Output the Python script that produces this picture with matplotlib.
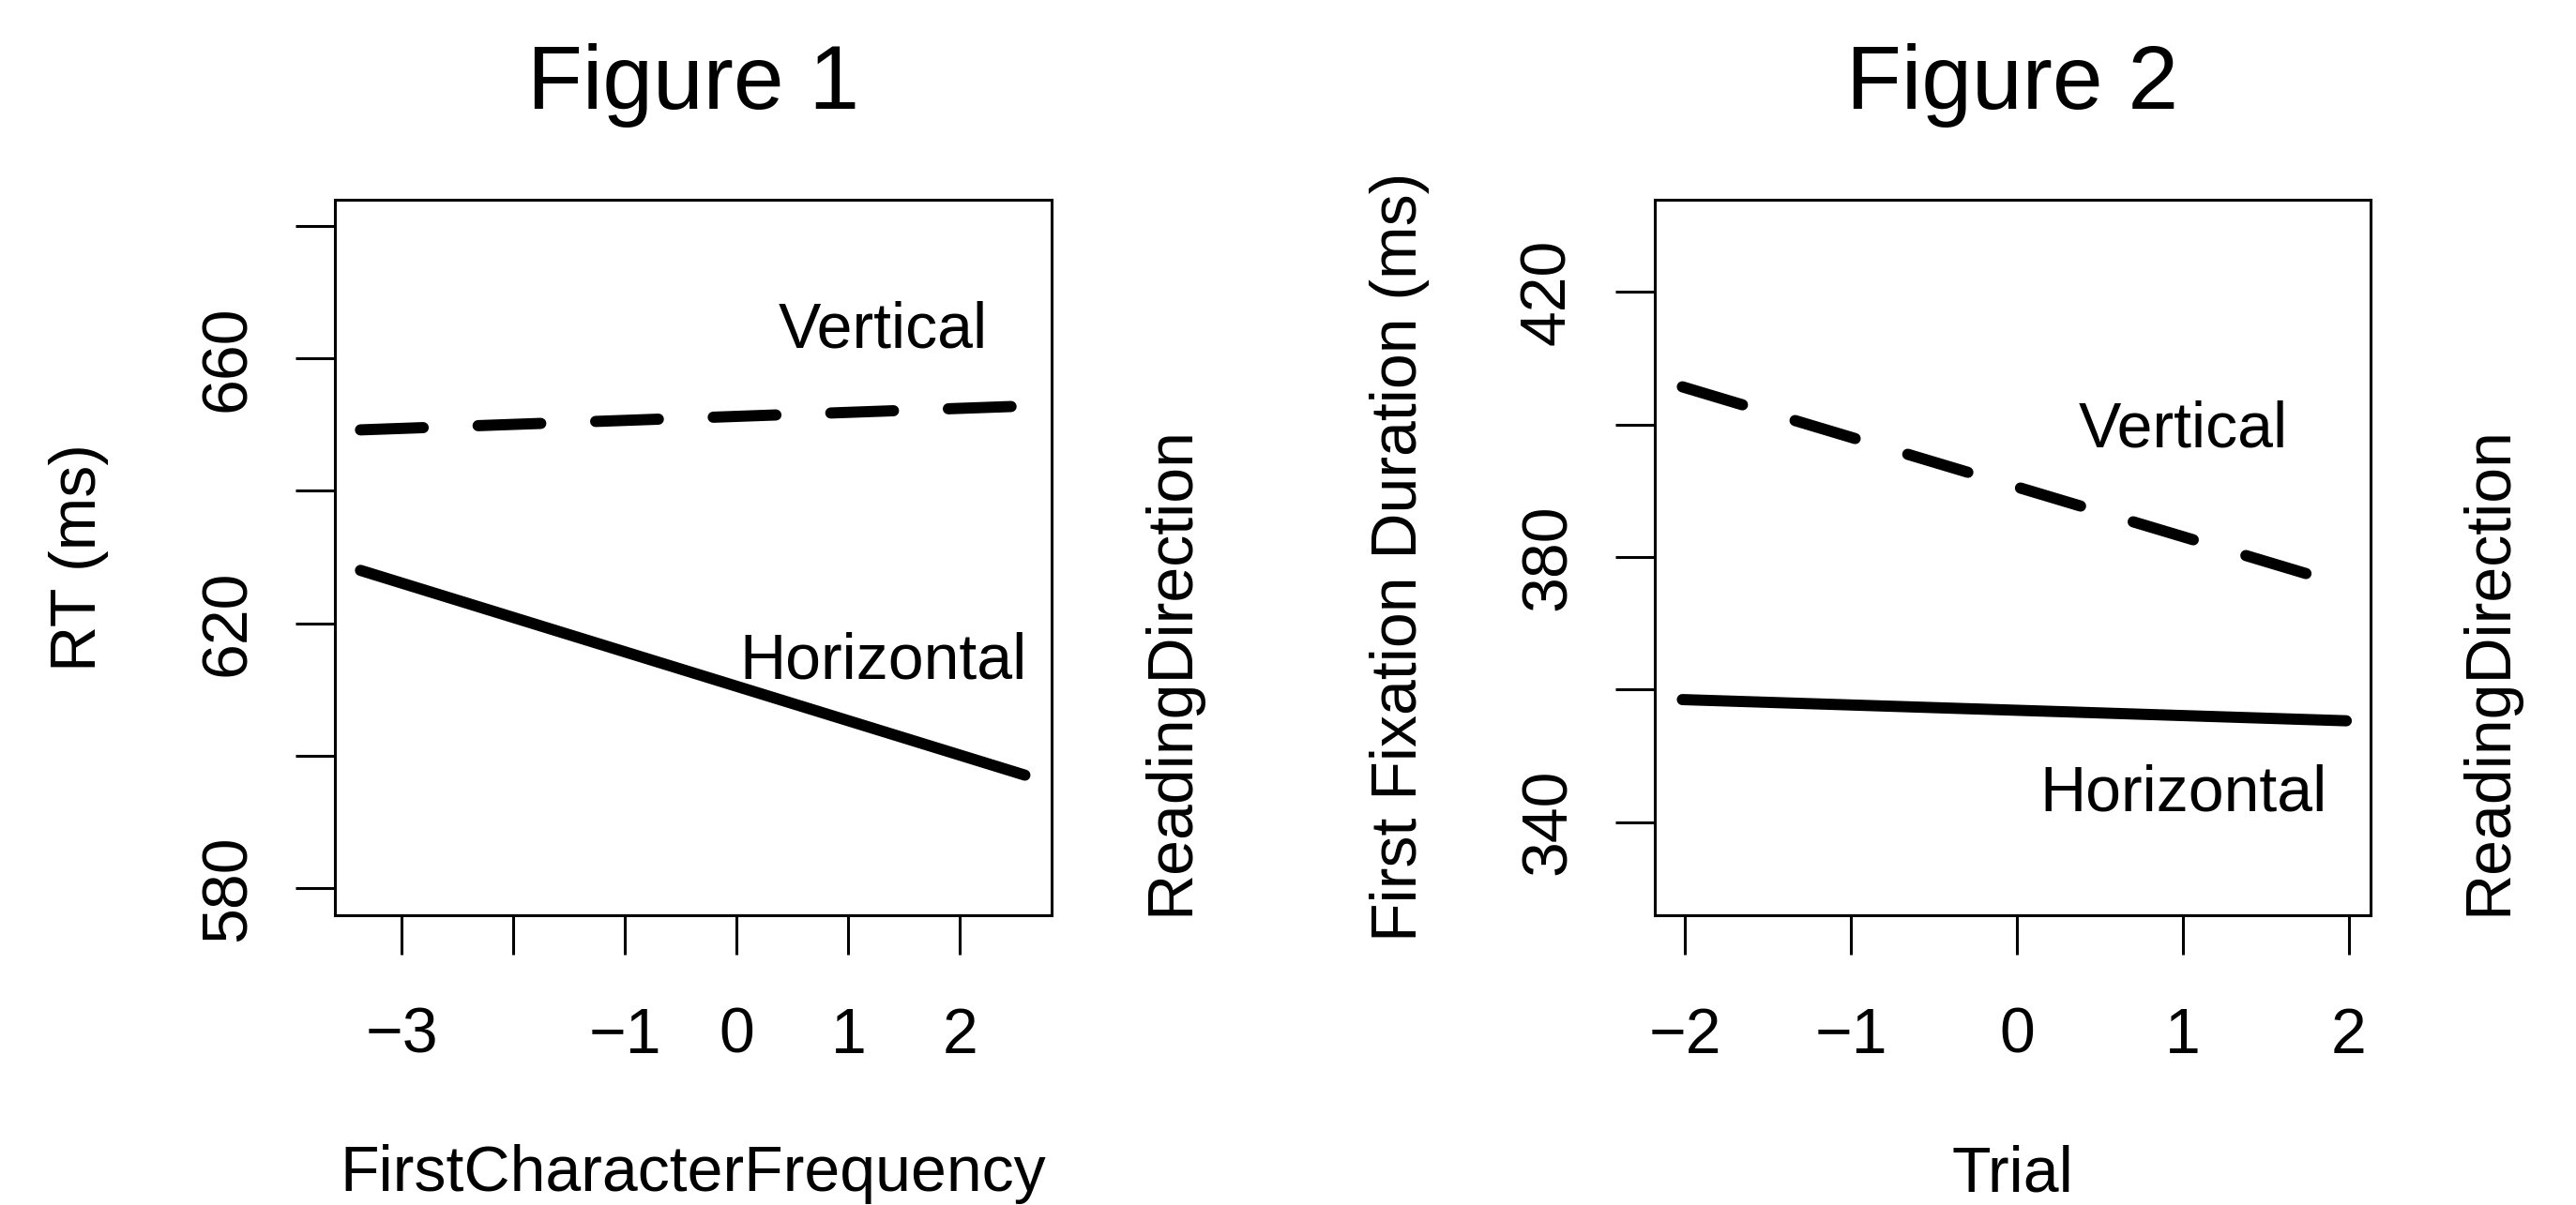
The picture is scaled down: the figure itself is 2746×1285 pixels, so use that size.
import matplotlib
matplotlib.use("Agg")
import matplotlib.pyplot as plt

plt.rcParams['font.family'] = ['Liberation Sans', 'DejaVu Sans']

# Figure 1 data
freq_x = [-3.37, 2.58]
rt_vertical = [649.2, 652.8]
rt_horizontal = [628.0, 597.1]
freq_ticks = [-3, -2, -1, 0, 1, 2]
freq_ticklabels = ['\u22123', '', '\u22121', '0', '1', '2']
rt_ticks = [580, 600, 620, 640, 660, 680]
rt_ticklabels = ['580', '', '620', '', '660', '']

# Figure 2 data
trial_x = [-2.015, 1.985]
ffd_vertical = [405.7, 375.7]
ffd_horizontal = [358.5, 355.3]
trial_ticks = [-2, -1, 0, 1, 2]
trial_ticklabels = ['\u22122', '\u22121', '0', '1', '2']
ffd_ticks = [340, 360, 380, 400, 420]
ffd_ticklabels = ['340', '', '380', '', '420']

W, H = 2746, 1285
fig = plt.figure(figsize=(W / 100, H / 100), dpi=100)

FS = 49
LW = 8.6
dash = (0, (5.6, 4.9))


def panel(rect, title, xlab, ylab, x, yv, yh, xlim, ylim, xt, xtl, yt, ytl,
          v_pos, h_pos):
    ax = fig.add_axes(rect)
    ax.plot(x, yv, color='black', lw=LW, linestyle=dash,
            dash_capstyle='round', solid_capstyle='round')
    ax.plot(x, yh, color='black', lw=LW, solid_capstyle='round')
    ax.set_xlim(*xlim)
    ax.set_ylim(*ylim)
    ax.set_xticks(xt)
    ax.set_xticklabels(xtl, fontsize=FS)
    ax.set_yticks(yt)
    ax.set_yticklabels(ytl, fontsize=FS, rotation=90, va='center')
    for s in ax.spines.values():
        s.set_linewidth(2.2)
    ax.tick_params(axis='both', direction='out', length=30.2, width=2.2)
    ax.tick_params(axis='x', pad=39.5)
    ax.tick_params(axis='y', pad=28.5)
    ax.set_title(title, fontsize=69.5, y=1.1264, pad=0, va='baseline')
    ax.text(0.5, -0.386, xlab, transform=ax.transAxes, fontsize=FS,
            ha='center', va='baseline')
    ax.text(-0.3337, 0.5, ylab, transform=ax.transAxes, fontsize=FS,
            rotation=90, rotation_mode='anchor', ha='center', va='baseline')
    ax.text(1.1904, 0.0, 'ReadingDirection', transform=ax.transAxes,
            fontsize=FS, rotation=90, rotation_mode='anchor',
            ha='left', va='baseline')
    ax.text(v_pos[0], v_pos[1], 'Vertical', fontsize=FS, ha='center',
            va='baseline')
    ax.text(h_pos[0], h_pos[1], 'Horizontal', fontsize=FS, ha='center',
            va='baseline')
    return ax


ax_h = 763.2 / H
ax_b = 1 - 975.7 / H

panel([356.9 / W, ax_b, 764.2 / W, ax_h], 'Figure 1',
      'FirstCharacterFrequency', 'RT (ms)',
      freq_x, rt_vertical, rt_horizontal,
      (-3.60, 2.82), (576, 684),
      freq_ticks, freq_ticklabels, rt_ticks, rt_ticklabels,
      (1.307, 661.6), (1.307, 611.7))

panel([1764.0 / W, ax_b, 762.6 / W, ax_h], 'Figure 2',
      'Trial', 'First Fixation Duration (ms)',
      trial_x, ffd_vertical, ffd_horizontal,
      (-2.181, 2.129), (326, 434),
      trial_ticks, trial_ticklabels, ffd_ticks, ffd_ticklabels,
      (1.005, 396.6), (1.005, 341.8))

fig.savefig('out.png', dpi=100)
